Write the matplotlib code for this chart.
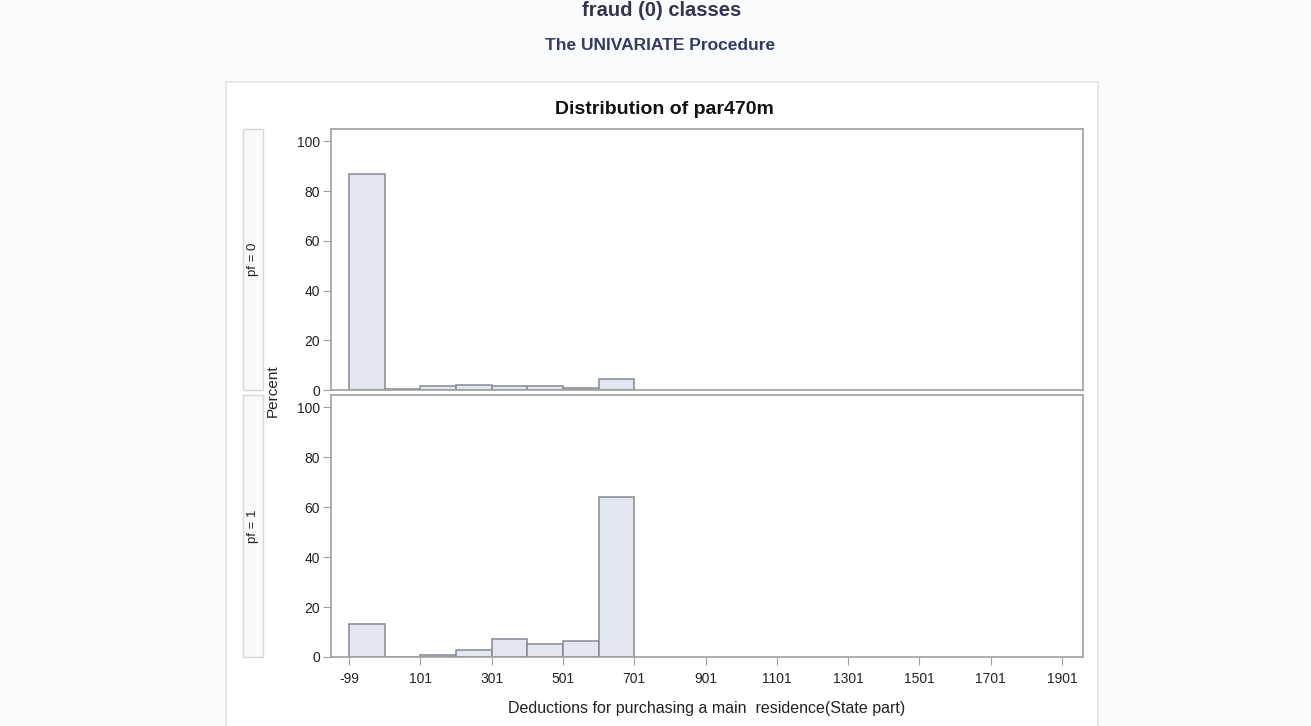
import matplotlib
matplotlib.use("Agg")
import matplotlib.pyplot as plt
from matplotlib.patches import Rectangle

# ---- data ----
bin_left = [-99, 1, 101, 201, 301, 401, 501, 601]
bin_width = 100
pct_pf0 = [87, 0.5, 1.5, 2.0, 1.6, 1.5, 1.0, 4.6]
pct_pf1 = [13.2, 0, 0.7, 3.0, 7.2, 5.1, 6.6, 64.2]
xticks = [-99, 101, 301, 501, 701, 901, 1101, 1301, 1501, 1701, 1901]
yticks = [0, 20, 40, 60, 80, 100]
panel_labels = ["pf = 0", "pf = 1"]

W, H = 1311, 726
fig = plt.figure(figsize=(W / 100, H / 100), dpi=100)
fig.patch.set_facecolor("#fafbfd")
plt.rcParams["font.family"] = ["Liberation Sans", "DejaVu Sans"]

def rect(x0, y0, x1, y1):
    return [x0 / W, 1 - y1 / H, (x1 - x0) / W, (y1 - y0) / H]

# outer white frame
fig.patches.append(Rectangle((226 / W, -0.01), (1098 - 226) / W, 1 - 82 / H + 0.01,
                             transform=fig.transFigure, facecolor="white",
                             edgecolor="#e2e4e8", linewidth=1.2, zorder=-10))

fig.text(662 / W, 1 - 0.5 / H, "fraud (0) classes", ha="center", va="top",
         fontsize=14.5, fontweight="bold", color="#2f3550")
fig.text(660 / W, 1 - 45 / H, "The UNIVARIATE Procedure", ha="center", va="center",
         fontsize=12.5, fontweight="bold", color="#333a66")
fig.text(664 / W, 1 - 110 / H, "Distribution of par470m", ha="center", va="center",
         fontsize=14, fontweight="bold", color="#111111")

panels = [(129, 390, pct_pf0), (395, 657, pct_pf1)]
spine_c = "#a0a0a0"
for i, (y0, y1, vals) in enumerate(panels):
    ax = fig.add_axes(rect(331, y0, 1083, y1))
    ax.set_zorder(5)
    ax.bar(bin_left, vals, width=bin_width, align="edge",
           facecolor="#e2e7f0", edgecolor="#858a92", linewidth=1.1)
    ax.set_xlim(-150, 1960)
    ax.set_ylim(0, 105)
    ax.set_yticks(yticks)
    for s in ax.spines.values():
        s.set_color(spine_c)
        s.set_linewidth(1.2)
    ax.tick_params(axis="y", direction="out", length=6, color=spine_c,
                   labelsize=10, labelcolor="#222222", pad=2)
    if i == 1:
        ax.set_xticks(xticks)
        ax.set_xticklabels([str(t) for t in xticks])
        ax.tick_params(axis="x", direction="out", length=6, color=spine_c,
                       labelsize=10, labelcolor="#222222", pad=5)
    else:
        ax.set_xticks([])
    # strip label box
    fig.patches.append(Rectangle((243 / W, 1 - y1 / H), 20 / W, (y1 - y0) / H,
                                 transform=fig.transFigure, facecolor="#f8f9fb",
                                 edgecolor="#d5d7db", linewidth=1.0, zorder=1))
    fig.text(253 / W, 1 - ((y0 + y1) / 2) / H, panel_labels[i], rotation=90,
             ha="center", va="center", fontsize=9.5, color="#222222")

fig.text(273 / W, 1 - 391 / H, "Percent", rotation=90, ha="center", va="center",
         fontsize=11, color="#222222")
fig.text(707 / W, 1 - 709 / H, "Deductions for purchasing a main  residence(State part)",
         ha="center", va="center", fontsize=11.5, color="#222222")

fig.savefig("out.png", dpi=100, facecolor=fig.get_facecolor())
